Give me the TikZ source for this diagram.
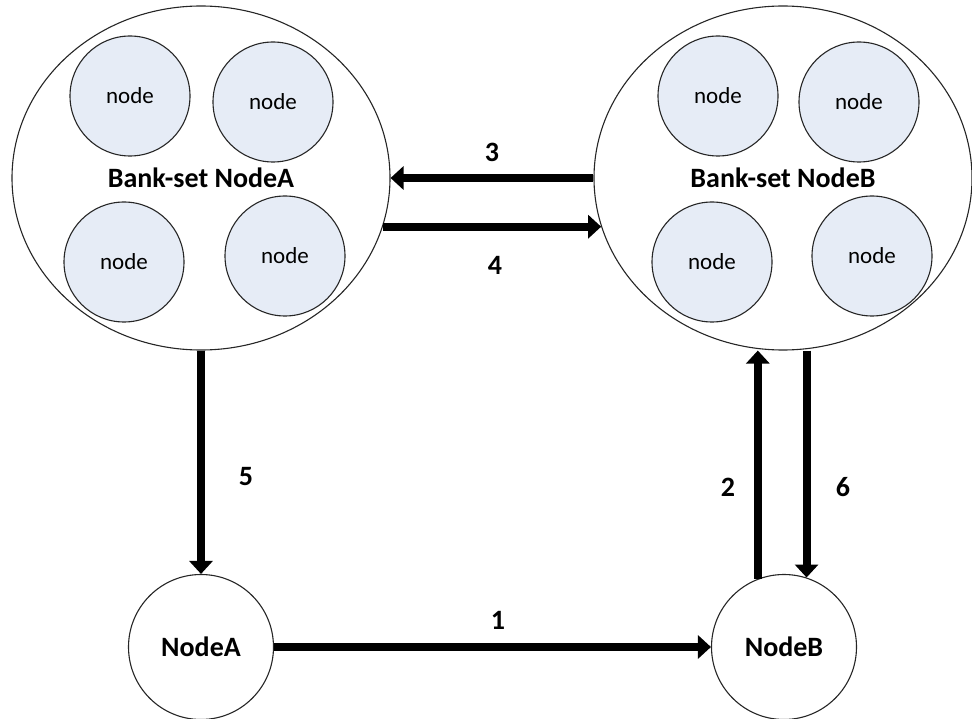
\documentclass[tikz,border=0pt]{standalone}
\usepackage{fontspec}
\setmainfont{Carlito}
\usetikzlibrary{shapes.geometric,arrows.meta}
\definecolor{memberfill}{RGB}{230,236,246}
\tikzset{
  bankset/.style={ellipse, draw=black!85, line width=1.1pt, fill=white,
    minimum width=378pt, minimum height=344pt, inner sep=0pt,
    font=\fontsize{28}{32}\selectfont\bfseries},
  member/.style={circle, draw=black!85, line width=1.1pt, fill=memberfill,
    minimum size=120pt, inner sep=0pt, font=\fontsize{23}{27}\selectfont},
  endpoint/.style={circle, draw=black!85, line width=1.1pt, fill=white,
    minimum size=145pt, inner sep=0pt, font=\fontsize{28}{32}\selectfont\bfseries},
  flow/.style={line width=8pt, -{Triangle[length=13pt,width=23pt]}},
  steplabel/.style={font=\fontsize{28}{32}\selectfont\bfseries, inner sep=0pt}
}
\begin{document}
\begin{tikzpicture}[x=1pt,y=-1pt]
  \useasboundingbox (0,0) rectangle (972,719);

  % bank sets with their member nodes
  \node[bankset] (bankA) at (201,178) {Bank-set NodeA};
  \node[member] (a1) at (130,96) {node};
  \node[member] (a2) at (273,102) {node};
  \node[member] (a3) at (124,262) {node};
  \node[member] (a4) at (285,256) {node};

  \node[bankset] (bankB) at (783,178) {Bank-set NodeB};
  \node[member] (b1) at (718,96) {node};
  \node[member] (b2) at (859,102) {node};
  \node[member] (b3) at (712,262) {node};
  \node[member] (b4) at (872,256) {node};

  % single nodes
  \node[endpoint] (nodeA) at (201,647) {NodeA};
  \node[endpoint] (nodeB) at (784,647) {NodeB};

  % message flow
  \draw[flow] (nodeA.east) -- (nodeB.west);
  \draw[flow] (nodeB.111) -- (nodeB.111 |- bankB.south);
  \draw[flow] (bankB.west) -- (bankA.east);
  \draw[flow] (bankA.-15) -- (bankB.195);
  \draw[flow] (bankA.south) -- (nodeA.north);
  \draw[flow] (nodeB.72 |- bankB.south) -- (nodeB.72);

  % step numbers
  \node[steplabel] (l1) at (498,620) {1};
  \node[steplabel] (l2) at (728,487) {2};
  \node[steplabel] (l3) at (492,152) {3};
  \node[steplabel] (l4) at (495,265) {4};
  \node[steplabel] (l5) at (246,477) {5};
  \node[steplabel] (l6) at (843,487) {6};
\end{tikzpicture}
\end{document}
